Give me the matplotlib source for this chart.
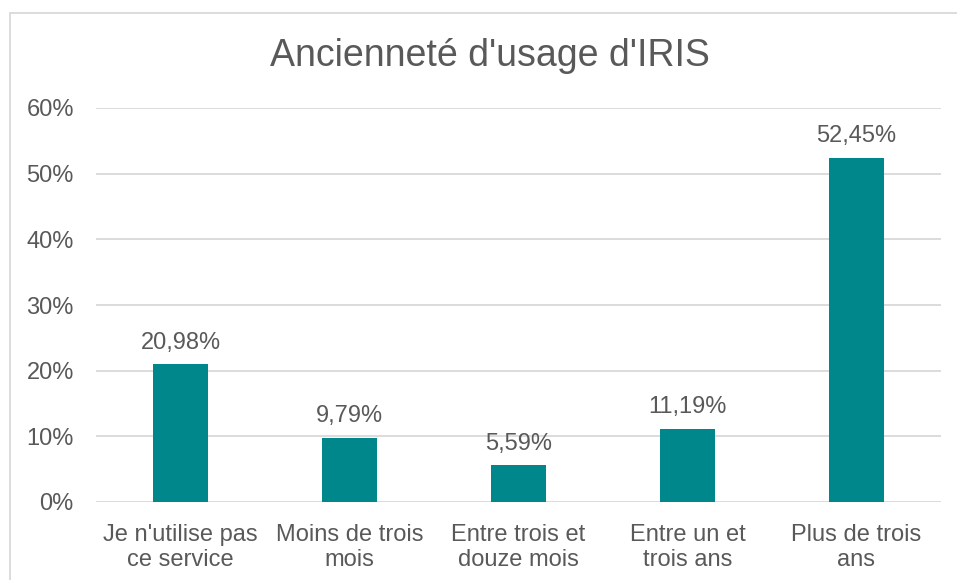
import matplotlib.pyplot as plt
from matplotlib.patches import Rectangle

categories = ["Je n'utilise pas\nce service", "Moins de trois\nmois", "Entre trois et\ndouze mois",
              "Entre un et\ntrois ans", "Plus de trois\nans"]
values = [20.98, 9.79, 5.59, 11.19, 52.45]
yticks = [0, 10, 20, 30, 40, 50, 60]

plt.rcParams['font.family'] = ['Liberation Sans', 'DejaVu Sans']
text_col = '#595959'
bar_col = '#00878C'
grid_col = '#D9D9D9'

W, H = 957, 580
fig = plt.figure(figsize=(W / 100, H / 100), dpi=100)

# chart frame (only the left and top edges are visible in the crop)
fig.patches.append(Rectangle((10 / W, -0.1), 1.2, (H - 13) / H + 0.1, transform=fig.transFigure,
                             fill=False, edgecolor=grid_col, linewidth=1.3))

ax = fig.add_axes([96 / W, 78 / H, 845 / W, 394 / H])
x = range(len(values))
ax.bar(x, values, width=0.32, color=bar_col, zorder=3)
for i, v in zip(x, values):
    ax.text(i, v + 1.6, f"{v:.2f}".replace('.', ',') + '%', ha='center', va='bottom',
            fontsize=17, color=text_col)

ax.set_xlim(-0.5, len(values) - 0.5)
ax.set_ylim(0, 60)
ax.set_yticks(yticks)
ax.set_yticklabels([f"{t}%" for t in yticks])
ax.set_xticks(list(x))
ax.set_xticklabels(categories, linespacing=1.15)
ax.tick_params(axis='both', length=0, labelsize=17, labelcolor=text_col)
ax.tick_params(axis='y', pad=16)
ax.tick_params(axis='x', pad=16)
ax.grid(axis='y', color=grid_col, linewidth=1.3, zorder=0)
for s in ax.spines.values():
    s.set_visible(False)

fig.text((272 + 707) / 2 / W, 1 - 56 / H, "Ancienneté d'usage d'IRIS", ha='center', va='center',
         fontsize=27, color=text_col)

fig.savefig('out.png', dpi=100)
